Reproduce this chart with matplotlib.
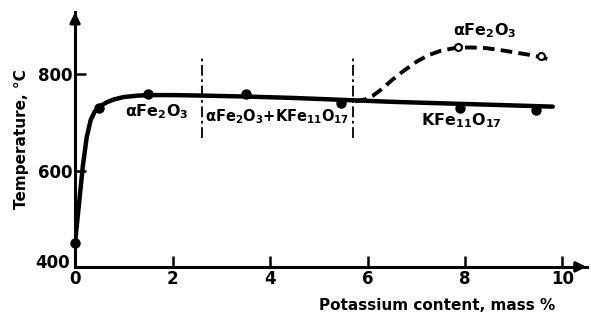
import matplotlib
matplotlib.use("Agg")
import matplotlib.pyplot as plt
import matplotlib.transforms as mtransforms
import numpy as np

plt.rcParams['font.family'] = ['DejaVu Sans']
plt.rcParams['font.weight'] = 'bold'
plt.rcParams['mathtext.fontset'] = 'custom'
plt.rcParams['mathtext.rm'] = 'DejaVu Sans:bold'
plt.rcParams['mathtext.it'] = 'DejaVu Sans:bold'
plt.rcParams['mathtext.default'] = 'rm'

# measured points (solid, filled markers)
pts_x = [0.0, 0.5, 1.5, 3.5, 5.45, 7.9, 9.45]
pts_y = [450, 730, 760, 760, 740, 730, 725]
# open markers (dashed branch)
open_x = [7.85, 9.55]
open_y = [856, 839]

# solid trend curve
curve_x = [0.0, 0.08, 0.16, 0.24, 0.32, 0.4, 0.5, 0.65, 0.8, 1.0, 1.3, 1.6, 2.0, 2.6, 3.5, 4.5, 5.5, 6.5, 7.5, 8.5, 9.8]
curve_y = [450, 530, 610, 670, 705, 722, 733, 742, 748, 753, 756, 757, 757, 756, 754, 751, 747, 743, 740, 737, 733]
# dashed branch
dash_x = [5.75, 5.95, 6.1, 6.3, 6.5, 6.75, 7.0, 7.25, 7.5, 7.8, 8.1, 8.4, 8.7, 9.0, 9.3, 9.55, 9.8]
dash_y = [744, 748, 755, 770, 788, 808, 826, 840, 849, 855, 856, 855, 851, 846, 841, 836, 829]

xticks = [0, 2, 4, 6, 8, 10]
yticks = [400, 600, 800]
dividers_x = [2.6, 5.7]
divider_range = (667, 840)

fig = plt.figure(figsize=(5.91, 3.2), dpi=100)
ax = fig.add_axes([0.127, 0.166, 0.866, 0.797])
ax.set_xlim(0, 10.5)
ax.set_ylim(400, 930)

for s in ['top', 'right']:
    ax.spines[s].set_visible(False)
for s in ['left', 'bottom']:
    ax.spines[s].set_linewidth(2.2)

ax.plot(curve_x, curve_y, color='black', lw=3.2, solid_capstyle='round', zorder=3)
ax.plot(dash_x, dash_y, color='black', lw=2.8, dashes=(3.0, 1.6), zorder=3)
ax.plot(pts_x, pts_y, 'o', color='black', ms=6.5, zorder=4, clip_on=False)
ax.plot(open_x, open_y, 'o', mfc='white', mec='black', mew=1.5, ms=5, zorder=4)

for dx in dividers_x:
    ax.plot([dx, dx], divider_range, color='black', lw=1.3, dashes=(6, 2, 1.5, 2))

ax.set_xticks(xticks)
ax.set_yticks(yticks)
ax.tick_params(direction='in', length=8, width=1.8, labelsize=12, pad=2)
ax.set_xticklabels([str(t) for t in xticks], fontweight='bold')
ax.set_yticklabels([str(t) for t in yticks], fontweight='bold')

# nudge the "400" label up slightly so it does not collide with "0"
lbl400 = ax.get_yticklabels()[0]
lbl400.set_transform(lbl400.get_transform() +
                     mtransforms.ScaledTranslation(-2 / 72, 4 / 72, fig.dpi_scale_trans))

# arrows at axis ends
ax.annotate('', xy=(10.55, 400), xytext=(10.2, 400),
            arrowprops=dict(arrowstyle='-|>,head_length=0.6,head_width=0.3', color='black', lw=2.2),
            annotation_clip=False)
ax.annotate('', xy=(0, 935), xytext=(0, 900),
            arrowprops=dict(arrowstyle='-|>,head_length=0.6,head_width=0.3', color='black', lw=2.2),
            annotation_clip=False)

ax.set_ylabel('Temperature, °C', fontsize=11, fontweight='bold', labelpad=4)
ax.set_xlabel('Potassium content, mass %', fontsize=11, fontweight='bold')
ax.xaxis.set_label_coords(0.9375, -0.15)
ax.xaxis.label.set_ha('right')
ax.xaxis.label.set_va('center')

ax.text(1.03, 722, 'αFe$_2$O$_3$', fontsize=11.5, ha='left', va='center')
ax.text(2.66, 712, 'αFe$_2$O$_3$+KFe$_{11}$O$_{17}$', fontsize=10.5, ha='left', va='center')
ax.text(7.1, 703, 'KFe$_{11}$O$_{17}$', fontsize=11.5, ha='left', va='center')
ax.text(7.75, 890, 'αFe$_2$O$_3$', fontsize=11.5, ha='left', va='center')

fig.savefig('out.png', dpi=100)
